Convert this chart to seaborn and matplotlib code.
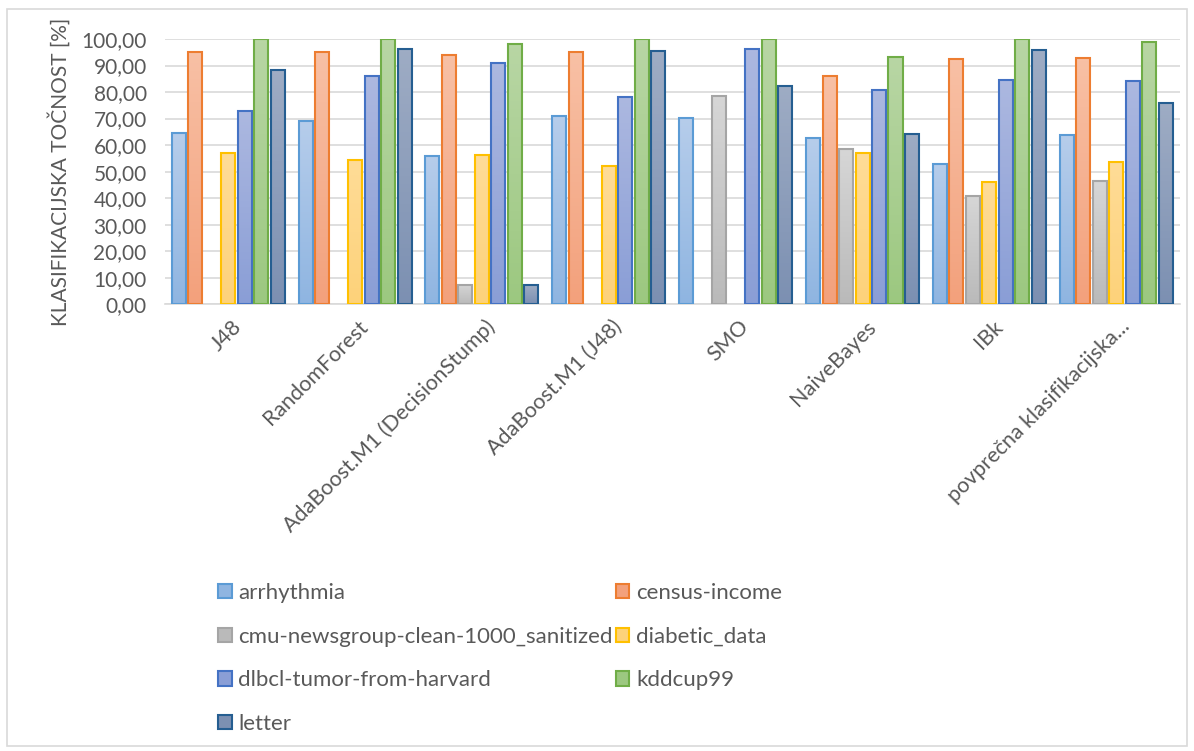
import numpy as np
import pandas as pd
import matplotlib
matplotlib.use("Agg")
import matplotlib.pyplot as plt
from matplotlib.colors import LinearSegmentedColormap
from matplotlib.patches import Patch, Rectangle
from matplotlib.transforms import ScaledTranslation
import seaborn as sns

algorithms = ['J48', 'RandomForest', 'AdaBoost.M1 (DecisionStump)', 'AdaBoost.M1 (J48)',
              'SMO', 'NaiveBayes', 'IBk', 'povprečna klasifikacijska...']
datasets = ['arrhythmia', 'census-income', 'cmu-newsgroup-clean-1000_sanitized',
            'diabetic_data', 'dlbcl-tumor-from-harvard', 'kddcup99', 'letter']

nan = np.nan
arrhythmia = [64.5, 69.1, 55.8, 70.8, 70.2, 62.5, 53.0, 63.7]
census_income = [95.3, 95.3, 94.0, 95.0, nan, 86.0, 92.6, 93.0]
cmu_newsgroup = [nan, nan, 7.3, nan, 78.4, 58.4, 40.8, 46.3]
diabetic_data = [57.0, 54.5, 56.1, 52.1, nan, 56.9, 46.0, 53.7]
dlbcl_tumor = [73.0, 85.9, 91.1, 78.0, 96.2, 80.6, 84.5, 84.2]
kddcup99 = [99.9, 99.9, 98.0, 99.9, 99.9, 93.2, 99.9, 98.9]
letter = [88.2, 96.3, 7.1, 95.5, 82.4, 64.0, 96.0, 75.9]

# fill (top, bottom) and edge colours per dataset, Office-like
tops = ['#b6cdeb', '#f8c0a5', '#d6d6d6', '#ffdc97', '#acb8e0', '#b8d6a4', '#9eacc4']
bottoms = ['#8fb5e1', '#f3a17c', '#bababa', '#fdd27a', '#8a9ed6', '#9cc880', '#7c90b2']
edges = ['#5b9bd5', '#ed7d31', '#a5a5a5', '#ffc000', '#4472c4', '#70ad47', '#255e91']

wide = pd.DataFrame({'algorithm': algorithms,
                     datasets[0]: arrhythmia, datasets[1]: census_income,
                     datasets[2]: cmu_newsgroup, datasets[3]: diabetic_data,
                     datasets[4]: dlbcl_tumor, datasets[5]: kddcup99, datasets[6]: letter})
df = wide.melt(id_vars='algorithm', var_name='dataset', value_name='acc').dropna()

text_col = '#595959'
plt.rcParams['font.family'] = ['Lato', 'DejaVu Sans']

fig = plt.figure(figsize=(11.94, 7.51), dpi=100)
ax = fig.add_axes([0.138, 0.595, 0.850, 0.353])

sns.barplot(data=df, x='algorithm', y='acc', hue='dataset', order=algorithms,
            hue_order=datasets, palette=bottoms, width=0.91, gap=0.15,
            ax=ax, legend=False, zorder=2)

# gradient fill + coloured edge for each bar
for i, cont in enumerate(ax.containers):
    cmap = LinearSegmentedColormap.from_list(datasets[i], [bottoms[i], tops[i]])
    for bar in cont:
        x0, y0 = bar.get_x(), bar.get_y()
        w, h = bar.get_width(), bar.get_height()
        bar.set_facecolor('none')
        bar.set_edgecolor(edges[i])
        bar.set_linewidth(1.5)
        bar.set_zorder(3)
        grad = np.linspace(0, 1, 64).reshape(-1, 1)
        im = ax.imshow(grad, cmap=cmap, origin='lower', aspect='auto',
                       extent=[x0, x0 + w, y0, y0 + h], zorder=2.5)
        im.set_clip_path(bar)

ax.set_xlim(-0.5, len(algorithms) - 0.5)
ax.set_ylim(0, 100)
ax.set_yticks(np.arange(0, 101, 10))
ax.set_yticklabels([f'{v:.2f}'.replace('.', ',') for v in range(0, 101, 10)],
                   fontsize=15, color=text_col)
ax.yaxis.grid(True, color='#d9d9d9', linewidth=1.2, zorder=0)
ax.set_axisbelow(True)
ax.tick_params(axis='y', length=0, pad=13)
for s in ['top', 'right', 'left']:
    ax.spines[s].set_visible(False)
ax.spines['bottom'].set_color('#d9d9d9')
ax.spines['bottom'].set_linewidth(1.2)

ax.set_xlabel('')
ax.set_ylabel('KLASIFIKACIJSKA TOČNOST [%]', fontsize=15, color=text_col, labelpad=8)
ax.set_xticks(range(len(algorithms)))
ax.set_xticklabels(algorithms, rotation=45, ha='right', va='center',
                   rotation_mode='anchor', fontsize=15.5, color=text_col)
ax.tick_params(axis='x', length=0, pad=14)
shift = ScaledTranslation(10 / 100, 0, fig.dpi_scale_trans)
for lab in ax.get_xticklabels():
    lab.set_transform(lab.get_transform() + shift)

# legend laid out row-wise like the original
order = [0, 2, 4, 6, 1, 3, 5]
handles = [Patch(facecolor=bottoms[i], edgecolor=edges[i], linewidth=1.5) for i in order]
labels = [datasets[i] for i in order]
fig.legend(handles, labels, ncol=2, loc='upper left', bbox_to_anchor=(0.166, 0.25),
           frameon=False, fontsize=16, labelcolor=text_col, handlelength=0.6,
           handleheight=0.6, handletextpad=0.3, columnspacing=0.15, labelspacing=1.06)

# outer chart border
fig.patches.append(Rectangle((0.006, 0.006), 0.988, 0.982, transform=fig.transFigure,
                             fill=False, edgecolor='#d9d9d9', linewidth=1.2))

fig.savefig('out.png', dpi=100)
